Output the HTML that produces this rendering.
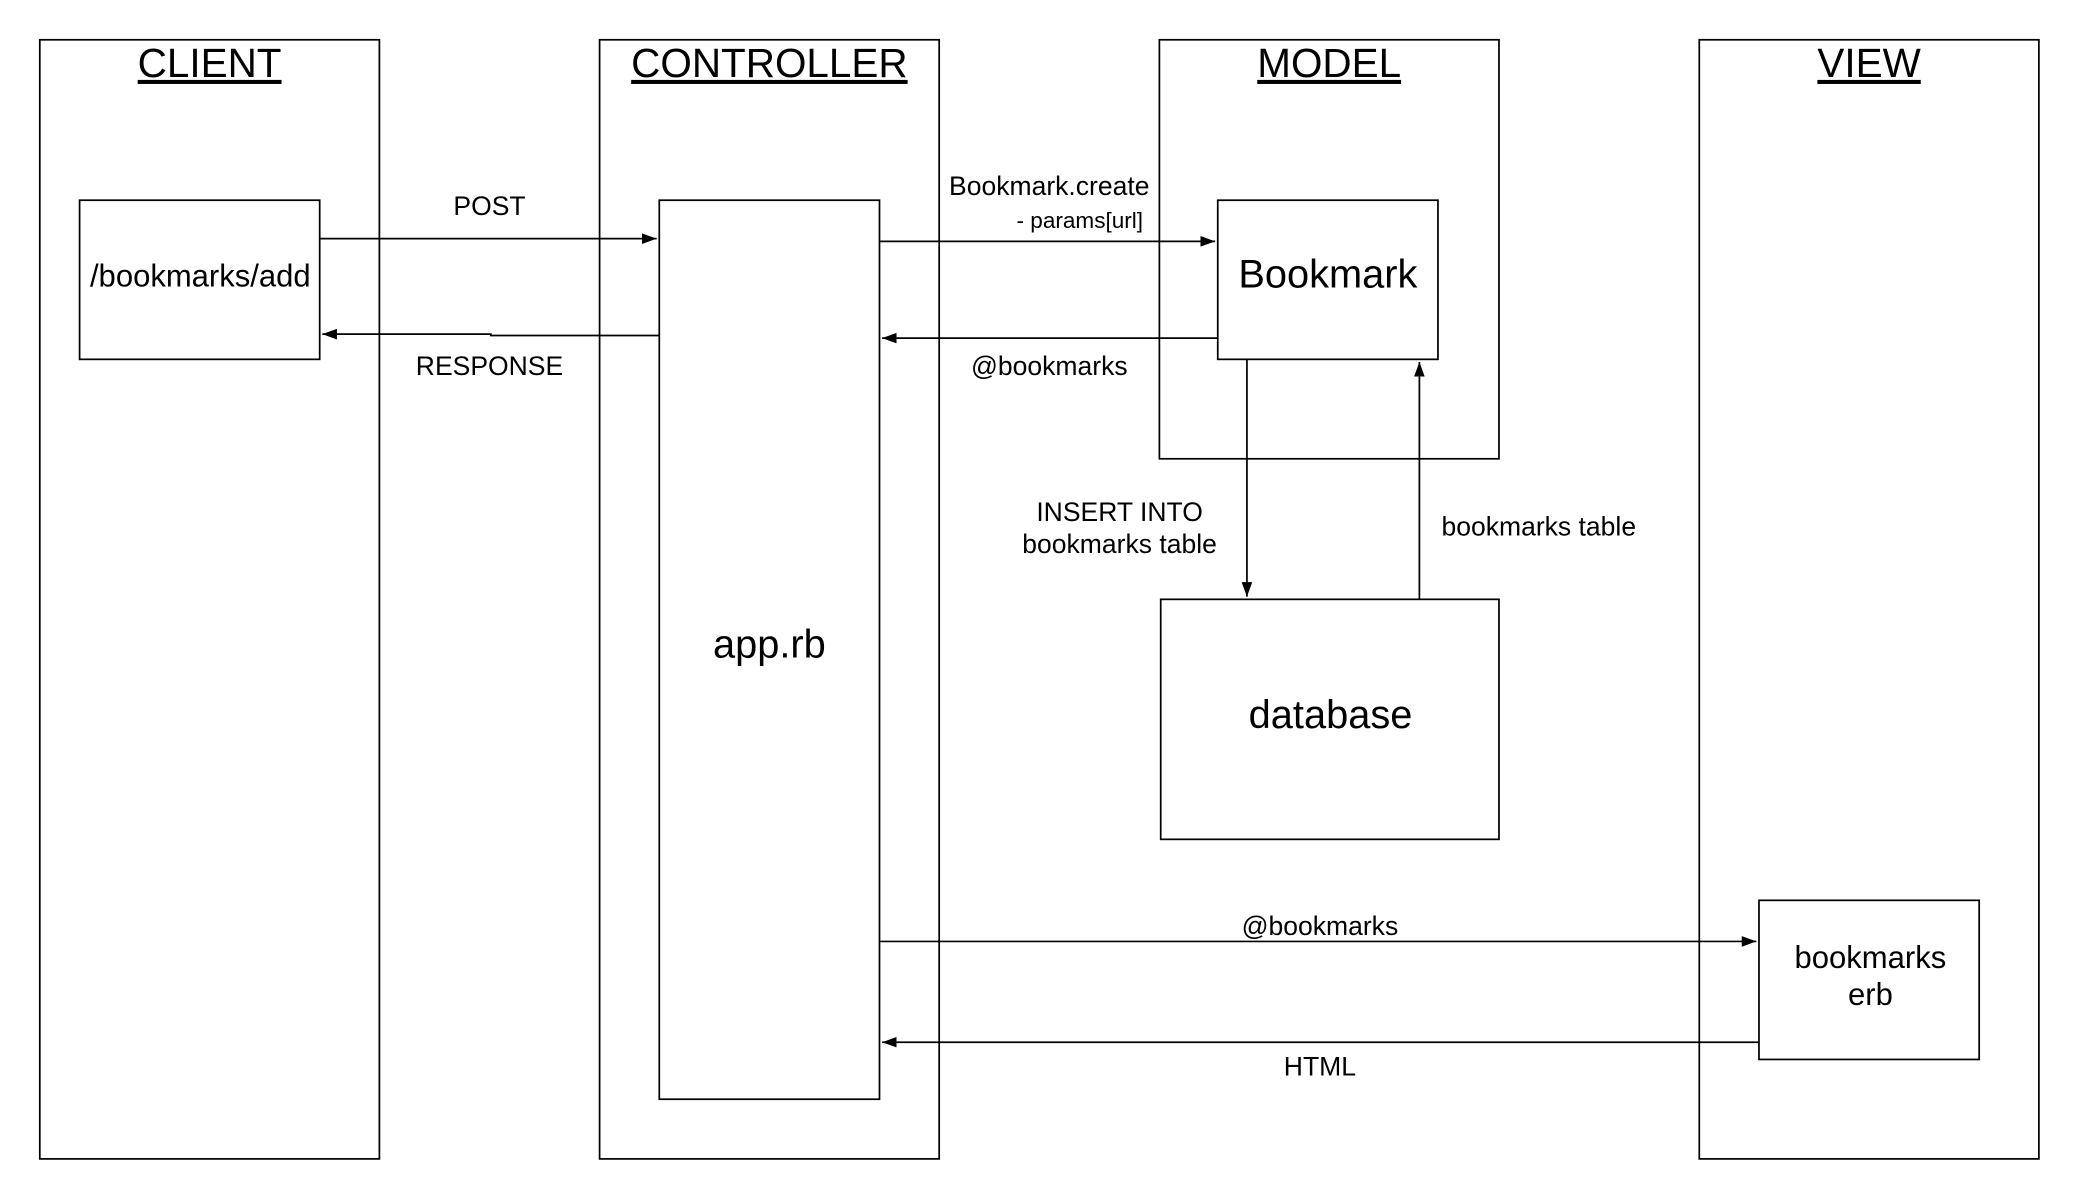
<!DOCTYPE html>
<html><head><meta charset="utf-8"><style>
html,body{margin:0;padding:0;background:#fff;}
svg{display:block;}
text{font-family:"Liberation Sans",Arial,sans-serif;fill:#000;}
</style></head><body>
<svg width="2080" height="1200" viewBox="0 0 1568 905" preserveAspectRatio="none" xmlns="http://www.w3.org/2000/svg">
<defs>
<marker id="a" markerWidth="12" markerHeight="10" refX="11" refY="5" orient="auto" markerUnits="userSpaceOnUse">
<path d="M0,1 L11,5 L0,9 Z" fill="#000"/></marker>
</defs>
<rect width="1600" height="920" fill="#fff"/>
<g fill="none" stroke="#000" stroke-width="1.3">
<rect x="30" y="30" width="256" height="844"/>
<rect x="452" y="30" width="256" height="844"/>
<rect x="874" y="30" width="256" height="316"/>
<rect x="1281" y="30" width="256" height="844"/>
<rect x="60" y="151" width="181" height="120"/>
<rect x="497" y="151" width="166" height="678"/>
<rect x="918" y="151" width="166" height="120"/>
<rect x="875" y="452" width="255" height="181"/>
<rect x="1326" y="679" width="166" height="120"/>
<line x1="241" y1="180" x2="495" y2="180" marker-end="url(#a)"/>
<polyline points="497,253 370,253 370,252 243,252" marker-end="url(#a)"/>
<line x1="663" y1="182" x2="916" y2="182" marker-end="url(#a)"/>
<line x1="918" y1="255" x2="665" y2="255" marker-end="url(#a)"/>
<line x1="940" y1="271" x2="940" y2="450" marker-end="url(#a)"/>
<line x1="1070" y1="452" x2="1070" y2="273" marker-end="url(#a)"/>
<line x1="663" y1="710" x2="1324" y2="710" marker-end="url(#a)"/>
<line x1="1326" y1="786" x2="665" y2="786" marker-end="url(#a)"/>
</g>
<g font-size="30.5" text-anchor="middle" text-decoration="underline">
<text x="158" y="58">CLIENT</text>
<text x="580" y="58">CONTROLLER</text>
<text x="1002" y="58">MODEL</text>
<text x="1409" y="58">VIEW</text>
</g>
<g text-anchor="middle">
<text x="151" y="216" font-size="23.4">/bookmarks/add</text>
<text x="580" y="496" font-size="30">app.rb</text>
<text x="1001" y="217" font-size="30">Bookmark</text>
<text x="1003" y="549" font-size="30">database</text>
<text x="1410" y="730" font-size="23.4">bookmarks</text>
<text x="1410" y="758" font-size="23.4">erb</text>
<g font-size="20">
<text x="369" y="162">POST</text>
<text x="369" y="283">RESPONSE</text>
<text x="791" y="147">Bookmark.create</text>
<text x="791" y="283">@bookmarks</text>
<text x="844" y="393">INSERT INTO</text>
<text x="844" y="417">bookmarks table</text>
<text x="1160" y="404">bookmarks table</text>
<text x="995" y="705">@bookmarks</text>
<text x="995" y="811">HTML</text>
</g>
<text x="814" y="172" font-size="17">- params[url]</text>
</g>
</svg>
</body></html>
